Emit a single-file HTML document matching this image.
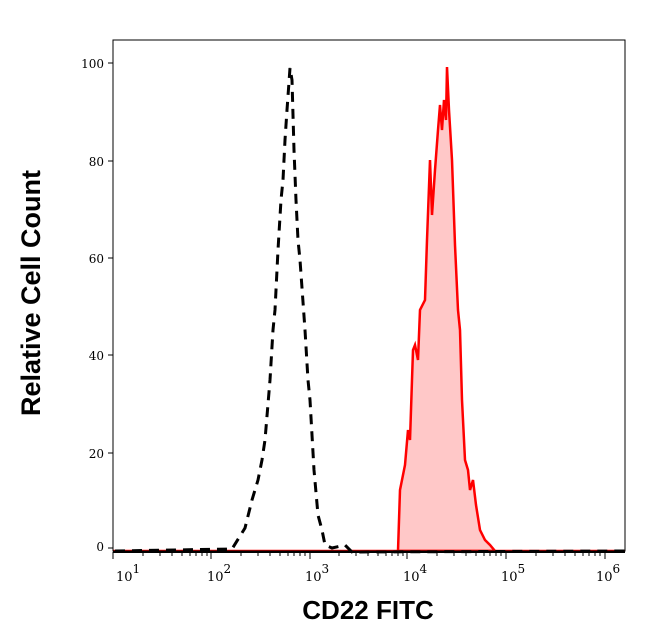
<!DOCTYPE html>
<html><head><style>body{margin:0;background:#fff}svg{display:block}</style></head><body>
<svg width="646" height="641" xmlns="http://www.w3.org/2000/svg">
<rect width="646" height="641" fill="#fff"/>
<polygon points="398,551 400,490 405,465 408,430 410,440 413,350 415,345 418,360 420,310 425,300 427,240 430,160 432,215 435,170 438,130 440,105 442,130 444,100 446,120 447,67 449,110 452,160 455,245 458,310 460,330 462,400 465,460 468,470 470,490 473,480 476,505 480,530 485,540 490,545 495,551" fill="#ffc8c8" stroke="#f00" stroke-width="2.5"/>
<line x1="113" y1="551" x2="625" y2="551" stroke="#f00" stroke-width="2.5"/>
<polyline points="115,551 232,549 245,528 252,500 258,480 262,460 265,440 270,380 273,330 275,310 278,250 281,200 283,180 285,140 287,110 290,68 292,80 294,150 296,200 298,240 300,260 305,330 308,380 310,400 314,470 318,515 322,530 325,545 332,548 345,545 352,552 625,551" fill="none" stroke="#000" stroke-width="3" stroke-dasharray="10,7"/>
<rect x="113" y="40" width="512" height="511" fill="none" stroke="#000" stroke-width="1"/>
<line x1="113" y1="552" x2="625" y2="552" stroke="#000" stroke-width="2"/>
<g stroke="#000" stroke-width="1" id="t">
<line x1="108" y1="63" x2="113" y2="63"/><line x1="108" y1="161" x2="113" y2="161"/><line x1="108" y1="258" x2="113" y2="258"/><line x1="108" y1="355" x2="113" y2="355"/><line x1="108" y1="453" x2="113" y2="453"/><line x1="108" y1="548" x2="113" y2="548"/>
<line x1="113" y1="552" x2="113" y2="559"/><line x1="211" y1="552" x2="211" y2="559"/><line x1="310" y1="552" x2="310" y2="559"/><line x1="407" y1="552" x2="407" y2="559"/><line x1="506" y1="552" x2="506" y2="559"/><line x1="605" y1="552" x2="605" y2="559"/>
</g>
<g stroke="#000" stroke-width="1">
<path d="M143,552v4M160,552v4M172,552v4M182,552v4M190,552v4M196,552v4M202,552v4M207,552v4
M241,552v4M258,552v4M270,552v4M280,552v4M288,552v4M294,552v4M300,552v4M305,552v4
M339,552v4M356,552v4M368,552v4M378,552v4M386,552v4M392,552v4M398,552v4M403,552v4
M437,552v4M454,552v4M466,552v4M476,552v4M484,552v4M490,552v4M496,552v4M501,552v4
M536,552v4M553,552v4M565,552v4M575,552v4M583,552v4M589,552v4M595,552v4M600,552v4"/>
</g>
<g font-family="DejaVu Serif, serif" font-size="12" text-anchor="end">
<text x="104" y="68">100</text><text x="104" y="166">80</text><text x="104" y="263">60</text><text x="104" y="360">40</text><text x="104" y="458">20</text><text x="104" y="551">0</text>
</g>
<g font-family="DejaVu Serif, serif" font-size="13">
<text x="116" y="581">10<tspan dy="-8" font-size="12">1</tspan></text>
<text x="207" y="581">10<tspan dy="-8" font-size="12">2</tspan></text>
<text x="305" y="581">10<tspan dy="-8" font-size="12">3</tspan></text>
<text x="403" y="581">10<tspan dy="-8" font-size="12">4</tspan></text>
<text x="501" y="581">10<tspan dy="-8" font-size="12">5</tspan></text>
<text x="596" y="581">10<tspan dy="-8" font-size="12">6</tspan></text>
</g>
<text x="368" y="619" text-anchor="middle" font-family="Liberation Sans, sans-serif" font-weight="bold" font-size="26">CD22 FITC</text>
<text transform="translate(40,293) rotate(-90)" text-anchor="middle" font-family="Liberation Sans, sans-serif" font-weight="bold" font-size="27">Relative Cell Count</text>
</svg>
</body></html>
